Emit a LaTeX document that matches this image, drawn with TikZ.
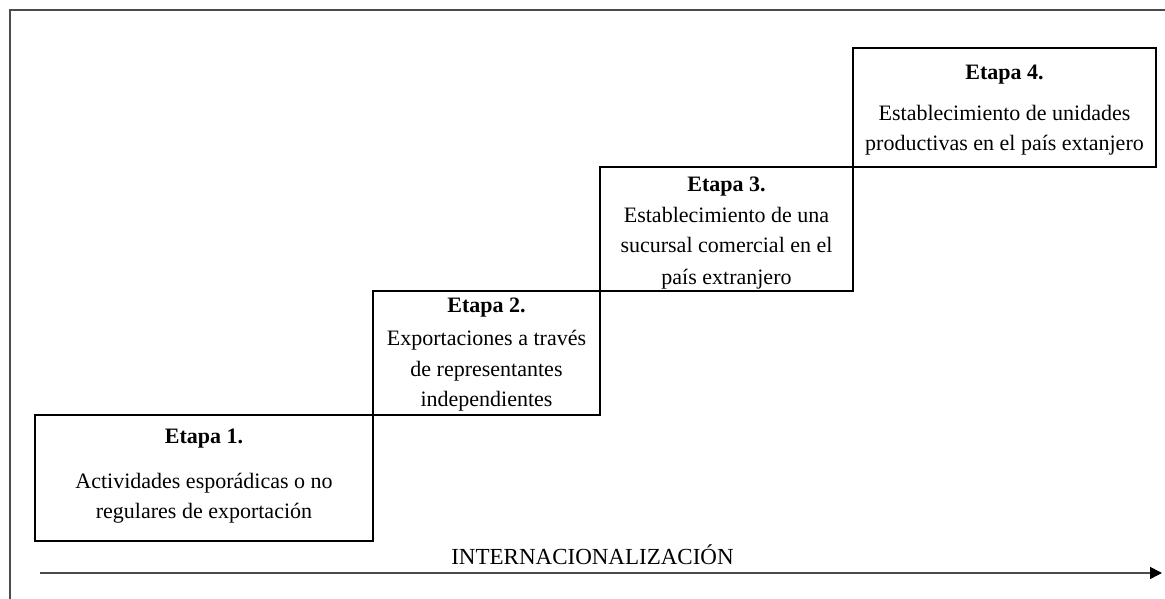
\documentclass[tikz,border=0pt]{standalone}
\usepackage{fontspec}
\setmainfont{Liberation Serif}
\usetikzlibrary{arrows.meta}

\begin{document}
\begin{tikzpicture}[x=1pt, y=1pt,
            outline/.style={color=black!70, line width=1.6pt},
            stagebox/.style={color=black, line width=1.2pt},
            stagetitle/.style={anchor=base, inner sep=0pt, font=\fontsize{22}{30}\selectfont\bfseries},
            stagetext/.style={anchor=base, inner sep=0pt, font=\fontsize{22}{30}\selectfont},
            axistext/.style={anchor=base, inner sep=0pt, font=\fontsize{23}{30}\selectfont}]

            \useasboundingbox (0,0) rectangle (1165,599);

            \draw[outline] (10,0) -- (10,589) -- (1165,589);

            \draw[stagebox] (35,58) rectangle (373,184);
            \draw[stagebox] (373,184) rectangle (600,308);
            \draw[stagebox] (600,308) rectangle (853,432);
            \draw[stagebox] (853,432) rectangle (1156,551);

            \node[stagetitle] (t1) at (204,155) {Etapa 1.};
            \node[stagetext] (l11) at (204,110) {Actividades esporádicas o no};
            \node[stagetext] (l12) at (204,80) {regulares de exportación};

            \node[stagetitle] (t2) at (486.5,286) {Etapa 2.};
            \node[stagetext] (l21) at (486.5,253) {Exportaciones a través};
            \node[stagetext] (l22) at (486.5,222) {de representantes};
            \node[stagetext] (l23) at (486.5,192) {independientes};

            \node[stagetitle] (t3) at (726.5,407) {Etapa 3.};
            \node[stagetext] (l31) at (726.5,376) {Establecimiento de una};
            \node[stagetext] (l32) at (726.5,346) {sucursal comercial en el};
            \node[stagetext] (l33) at (726.5,314) {país extranjero};

            \node[stagetitle] (t4) at (1004.5,519) {Etapa 4.};
            \node[stagetext] (l41) at (1004.5,478) {Establecimiento de unidades};
            \node[stagetext] (l42) at (1004.5,448) {productivas en el país extanjero};

            \node[axistext] (axis) at (592.5,34) {INTERNACIONALIZACIÓN};

            \coordinate (a0) at (40,26);
            \coordinate (a1) at (1162,26);
            \draw[outline, -{Triangle[length=12pt, width=12pt, color=black, fill=black]}] (a0) -- (a1);

            \end{tikzpicture}
\end{document}
